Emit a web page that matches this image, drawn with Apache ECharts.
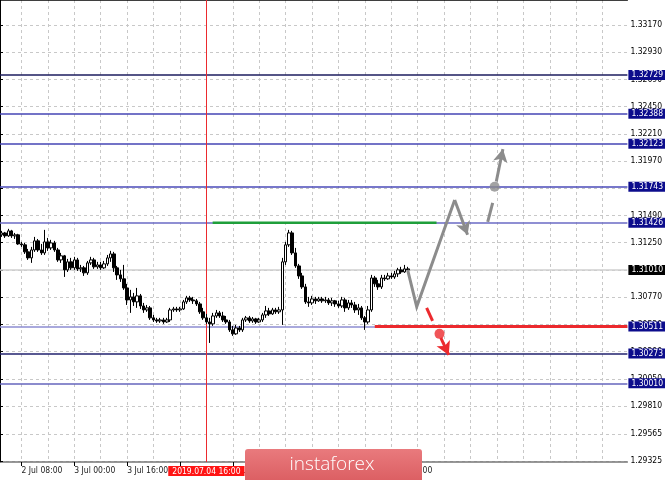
<!DOCTYPE html>
<html><head><meta charset="utf-8">
<script src="https://cdn.jsdelivr.net/npm/echarts@6/dist/echarts.min.js"></script>
<style>html,body{margin:0;padding:0;background:#fff}#c{width:665px;height:480px}</style>
</head><body><div id="c"></div>
<script>
// ---- data ----
const hourCount = 190;
const xLabelIndex = [6, 22, 38, 54, 70, 86, 102, 118];
const xLabelText = ['2 Jul 08:00', '3 Jul 00:00', '3 Jul 16:00', '4 Jul 08:00', '5 Jul 00:00', '5 Jul 16:00', '8 Jul 08:00', '9 Jul 00:00'];
const yTicks = [1.33170, 1.32930, 1.32690, 1.32450, 1.32210, 1.31970, 1.31730, 1.31490, 1.31250, 1.31010, 1.30770, 1.30530, 1.30290, 1.30050, 1.29810, 1.29565, 1.29325];
const levels = [1.32729, 1.32388, 1.32123, 1.31743, 1.31426, 1.30511, 1.30273, 1.30010];
const currentPrice = 1.31010;
const markerIndex = 62;
const markerLabel = '2019.07.04 16:00';

const opens = [1.31319,1.31336,1.31310,1.31354,1.31310,1.31319,1.31239,1.31231,1.31169,1.31116,
1.31186,1.31266,1.31186,1.31160,1.31257,1.31204,1.31248,1.31186,1.31098,1.31134,
1.31010,1.31081,1.31028,1.31098,1.31019,1.31028,1.30984,1.31072,1.31098,1.31037,
1.31054,1.31028,1.31063,1.31116,1.31151,1.31028,1.30966,1.30931,1.30851,1.30745,
1.30772,1.30728,1.30781,1.30692,1.30657,1.30675,1.30587,1.30569,1.30560,1.30569,
1.30551,1.30569,1.30657,1.30666,1.30657,1.30666,1.30728,1.30763,1.30745,1.30737,
1.30710,1.30640,1.30587,1.30551,1.30534,1.30604,1.30631,1.30604,1.30569,1.30551,
1.30481,1.30446,1.30498,1.30481,1.30569,1.30587,1.30560,1.30578,1.30551,1.30569,
1.30613,1.30648,1.30622,1.30657,1.30640,1.30657,1.31081,1.31231,1.31336,1.31160,
1.31045,1.30957,1.30860,1.30728,1.30719,1.30754,1.30737,1.30754,1.30737,1.30745,
1.30719,1.30737,1.30710,1.30692,1.30745,1.30675,1.30719,1.30701,1.30657,1.30675,
1.30587,1.30551,1.30657,1.30939,1.30887,1.30860,1.30939,1.30931,1.30957,1.30948,
1.30975,1.31010,1.30992,1.31019];
const closes = [1.31336,1.31310,1.31354,1.31310,1.31319,1.31239,1.31231,1.31169,1.31116,1.31186,
1.31266,1.31186,1.31160,1.31257,1.31204,1.31248,1.31186,1.31098,1.31134,1.31010,
1.31081,1.31028,1.31098,1.31019,1.31028,1.30984,1.31072,1.31098,1.31037,1.31054,
1.31028,1.31063,1.31116,1.31151,1.31028,1.30966,1.30931,1.30851,1.30745,1.30772,
1.30728,1.30781,1.30692,1.30657,1.30675,1.30587,1.30569,1.30560,1.30569,1.30551,
1.30569,1.30657,1.30666,1.30657,1.30666,1.30728,1.30763,1.30745,1.30737,1.30710,
1.30640,1.30587,1.30551,1.30534,1.30604,1.30631,1.30604,1.30569,1.30551,1.30481,
1.30446,1.30498,1.30481,1.30569,1.30587,1.30560,1.30578,1.30551,1.30569,1.30613,
1.30648,1.30622,1.30657,1.30640,1.30657,1.31081,1.31231,1.31336,1.31160,1.31045,
1.30957,1.30860,1.30728,1.30719,1.30754,1.30737,1.30754,1.30737,1.30745,1.30719,
1.30737,1.30710,1.30692,1.30745,1.30675,1.30719,1.30701,1.30657,1.30675,1.30587,
1.30551,1.30657,1.30939,1.30887,1.30860,1.30939,1.30931,1.30957,1.30948,1.30975,
1.31010,1.30992,1.31019,1.31010];
const lows = [1.31301,1.31292,1.31301,1.31292,1.31283,1.31231,1.31213,1.31151,1.31098,1.31072,
1.31169,1.31169,1.31142,1.31142,1.31178,1.31186,1.31169,1.31081,1.31072,1.30948,
1.30992,1.31010,1.31010,1.31001,1.30992,1.30957,1.30966,1.31054,1.31019,1.31019,
1.31010,1.31019,1.31045,1.31081,1.30992,1.30922,1.30904,1.30834,1.30701,1.30631,
1.30692,1.30675,1.30666,1.30631,1.30640,1.30569,1.30551,1.30543,1.30543,1.30534,
1.30543,1.30551,1.30640,1.30640,1.30640,1.30657,1.30710,1.30728,1.30710,1.30692,
1.30622,1.30569,1.30534,1.30366,1.30516,1.30587,1.30587,1.30551,1.30534,1.30463,
1.30428,1.30437,1.30463,1.30463,1.30551,1.30543,1.30543,1.30534,1.30543,1.30551,
1.30587,1.30604,1.30613,1.30622,1.30622,1.30525,1.31054,1.31213,1.31142,1.31028,
1.30931,1.30842,1.30710,1.30684,1.30701,1.30710,1.30728,1.30719,1.30719,1.30701,
1.30692,1.30684,1.30675,1.30675,1.30640,1.30657,1.30675,1.30631,1.30613,1.30569,
1.30481,1.30534,1.30640,1.30860,1.30834,1.30842,1.30913,1.30922,1.30931,1.30931,
1.30948,1.30975,1.30984,1.30992];
const highs = [1.31354,1.31345,1.31372,1.31363,1.31336,1.31328,1.31257,1.31248,1.31195,1.31213,
1.31301,1.31283,1.31239,1.31363,1.31292,1.31275,1.31266,1.31204,1.31160,1.31142,
1.31107,1.31116,1.31125,1.31116,1.31054,1.31045,1.31089,1.31125,1.31116,1.31081,
1.31081,1.31089,1.31142,1.31178,1.31169,1.31045,1.31010,1.31054,1.30887,1.30834,
1.30807,1.30851,1.30798,1.30719,1.30701,1.30692,1.30613,1.30587,1.30587,1.30587,
1.30587,1.30675,1.30684,1.30684,1.30684,1.30745,1.30781,1.30781,1.30772,1.30754,
1.30728,1.30675,1.30622,1.30587,1.30631,1.30657,1.30648,1.30640,1.30604,1.30569,
1.30516,1.30525,1.30516,1.30587,1.30604,1.30604,1.30595,1.30587,1.30587,1.30631,
1.30692,1.30675,1.30675,1.30675,1.30684,1.31116,1.31257,1.31363,1.31354,1.31204,
1.31063,1.30984,1.30887,1.30772,1.30781,1.30772,1.30772,1.30772,1.30772,1.30763,
1.30763,1.30745,1.30737,1.30772,1.30763,1.30745,1.30745,1.30728,1.30710,1.30692,
1.30604,1.30692,1.30966,1.30957,1.30922,1.30966,1.30966,1.30984,1.30984,1.31001,
1.31028,1.31037,1.31054,1.31037];

// forecast drawings (x in hour units, y in price)
const grayPath = [[123.45, 1.31010], [126.2, 1.30684], [137.7, 1.31627]];
const grayArrow1 = [[137.7, 1.31627], [141.6, 1.31319]];
const grayDash = [[147.7, 1.31433], [149.2, 1.31601]];
const grayDot = [[149.8, 1.31743]];
const grayArrow2 = [[150.3, 1.31790], [152.3, 1.32075]];
const redDash = [[129.2, 1.30675], [131.0, 1.30560]];
const redDot = [[133.1, 1.30446]];
const redArrow = [[133.5, 1.30410], [135.9, 1.30260]];
const greenLevel = [[64.4, 1.31426], [132.2, 1.31426]];
const redLevel = [[113.5, 1.30511], [190, 1.30511]];

// ---- styles ----
const levelLineColor = ['#1c1c5e', '#4444b4', '#4444b4', '#4a4ab8', '#6a6ac4', '#8c8cd2', '#22226e', '#6464bc'];
const levelLineWidth = [1.5, 1.5, 1.5, 1.5, 1.5, 1.6, 1.5, 1.5];
const FONT = '"Liberation Sans Narrow","DejaVu Sans Condensed","Liberation Sans",Arial,sans-serif';
const GRAY = '#8c8c8c', RED = '#ec2a2e', GREEN = '#1f9f3b';

const categories = [];
for (let i = 0; i < hourCount; i++) categories.push(String(i));
const candles = opens.map((o, i) => [o, closes[i], lows[i], highs[i]]);

const boxLabel = (txt, bg) => ({
  show: true, position: 'end', distance: 1, formatter: () => txt,
  color: '#fff', backgroundColor: bg, padding: [1, 3, 0, 3], fontSize: 8.5, lineHeight: 9,
  fontFamily: FONT
});

const levelMarks = levels.map((v, k) => ({
  yAxis: v,
  lineStyle: { color: levelLineColor[k], width: levelLineWidth[k], type: 'solid', opacity: 1 },
  label: boxLabel(v.toFixed(5), '#0c0c8c')
}));
levelMarks.unshift({
  yAxis: currentPrice,
  lineStyle: { color: '#cfcfcf', width: 1.5, type: 'solid', opacity: 1 },
  label: boxLabel(currentPrice.toFixed(5), '#000')
});
levelMarks.push({
  xAxis: markerIndex,
  lineStyle: { color: RED, width: 1, type: 'solid', opacity: 1 },
  label: { show: true, position: 'start', distance: 4, formatter: () => markerLabel, color: '#fff',
    backgroundColor: '#ff1414', padding: [1, 4, 0, 4], fontSize: 8.5, lineHeight: 9, fontFamily: FONT }
});

const seg = (pts, color, arrow) => ({
  coords: pts,
  lineStyle: { color: color, width: 3, type: 'solid', opacity: 1 },
  symbol: arrow ? ['none', 'arrow'] : ['none', 'none']
});

const chart = echarts.init(document.getElementById('c'), null, { renderer: 'canvas' });
chart.setOption({
  animation: false,
  backgroundColor: '#fff',
  grid: { left: 0, right: 37, top: 0, bottom: 18, containLabel: false },
  xAxis: [{
    type: 'category', data: categories, boundaryGap: true,
    axisLine: { show: true, lineStyle: { color: '#777', width: 1.5 } },
    axisTick: { show: true, alignWithLabel: true, length: 4, interval: (i) => xLabelIndex.indexOf(i) >= 0, lineStyle: { color: '#000' } },
    axisLabel: { show: true, interval: (i) => xLabelIndex.indexOf(i) >= 0, align: 'left', margin: 4,
      formatter: (v, i) => { const k = xLabelIndex.indexOf(i); return k >= 0 ? xLabelText[k] : ''; },
      fontSize: 8.5, color: '#222', fontFamily: FONT },
    splitLine: { show: true, alignWithLabel: true, interval: (i) => (i - 6) % 8 === 0 && i >= 6,
      lineStyle: { color: '#c8c8c8', type: [3, 3], width: 1 } }
  }, {
    type: 'value', min: 0, max: hourCount, position: 'top',
    axisLine: { show: true, onZero: false, lineStyle: { color: '#000', width: 1.5 } },
    axisTick: { show: false }, axisLabel: { show: false }, splitLine: { show: false }
  }],
  yAxis: {
    type: 'value', position: 'right', min: 1.29316, max: 1.33390, scale: true,
    axisLine: { show: true, lineStyle: { color: '#000', width: 1 } },
    axisTick: { show: true, customValues: yTicks, length: 3, lineStyle: { color: '#000' } },
    axisLabel: { show: true, customValues: yTicks, formatter: (v) => v.toFixed(5), margin: 3,
      fontSize: 8.5, color: '#000', fontFamily: FONT },
    splitLine: { show: true, lineStyle: { color: '#c8c8c8', type: [3, 3], width: 1 } }
  },
  series: [{
    type: 'candlestick', xAxisIndex: 0, yAxisIndex: 0, data: candles, barWidth: 3,
    itemStyle: { color: '#fff', color0: '#000', borderColor: '#000', borderColor0: '#000', borderWidth: 1 },
    markLine: { silent: true, z: 2, precision: 6, symbol: ['none', 'none'], animation: false, data: levelMarks },
    z: 3
  }, {
    type: 'line', xAxisIndex: 1, yAxisIndex: 0, data: greenLevel, symbol: 'none',
    lineStyle: { color: GREEN, width: 2.5 }, z: 8
  }, {
    type: 'line', xAxisIndex: 1, yAxisIndex: 0, data: redLevel, symbol: 'none',
    lineStyle: { color: RED, width: 3 }, z: 8
  }, {
    type: 'line', xAxisIndex: 1, yAxisIndex: 0, data: grayPath, symbol: 'none',
    lineStyle: { color: GRAY, width: 3, join: 'miter' }, z: 9,
    markLine: { silent: true, z: 9, precision: 6, animation: false, symbolSize: [11, 13], label: { show: false },
      data: [
        seg(grayArrow1, GRAY, true), seg(grayDash, GRAY, false), seg(grayArrow2, GRAY, true),
        seg(redDash, RED, false), seg(redArrow, RED, true)
      ].map(s => [{ coord: s.coords[0], lineStyle: s.lineStyle, symbol: s.symbol[0] },
                  { coord: s.coords[1], symbol: s.symbol[1] }]) }
  }, {
    type: 'scatter', xAxisIndex: 1, yAxisIndex: 0, data: grayDot, symbolSize: 10,
    itemStyle: { color: GRAY }, z: 10
  }, {
    type: 'scatter', xAxisIndex: 1, yAxisIndex: 0, data: redDot, symbolSize: 10,
    itemStyle: { color: RED }, z: 10
  }],
  graphic: [{
    type: 'group', z: 100, children: [{
      type: 'rect', z: 100, shape: { x: 245, y: 449, width: 177, height: 40, r: 3 },
      style: { fill: new echarts.graphic.LinearGradient(0, 0, 0, 1, [
        { offset: 0, color: '#e97a7d' }, { offset: 1, color: '#d8585c' }]) }
    }, {
      type: 'text', z: 101,
      style: { text: 'instaforex', x: 332, y: 465, align: 'center', verticalAlign: 'middle',
        fill: '#ffffff', font: '300 19px "Open Sans", sans-serif' }
    }]
  }]
});
</script>
</body></html>
